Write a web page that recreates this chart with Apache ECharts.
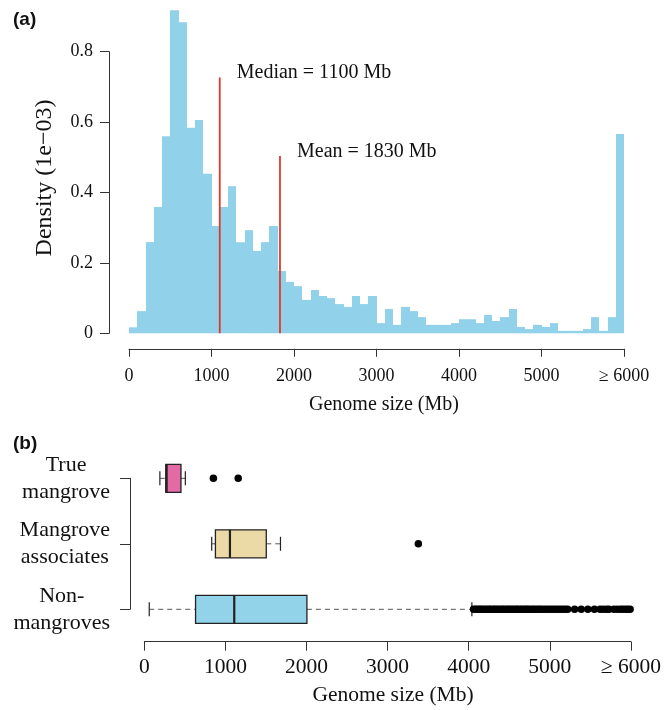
<!DOCTYPE html>
<html><head><meta charset="utf-8">
<script src="https://cdn.jsdelivr.net/npm/echarts@6/dist/echarts.min.js"></script>
<style>html,body{margin:0;padding:0;background:#fff}#c{width:664px;height:710px}</style>
</head><body><div id="c"></div>
<script>
// ---------- Panel (a): histogram ----------
const binWidth = 100; // Mb per bin
const densityValues = [
  0.017, 0.063, 0.259, 0.359, 0.560, 0.918, 0.884, 0.584, 0.606, 0.453,
  0.305, 0.359, 0.418, 0.259, 0.293, 0.234, 0.259, 0.305, 0.177, 0.146,
  0.134, 0.095, 0.123, 0.106, 0.100, 0.083, 0.075, 0.106, 0.083, 0.106,
  0.029, 0.069, 0.024, 0.075, 0.063, 0.046, 0.024, 0.024, 0.024, 0.029,
  0.040, 0.040, 0.029, 0.052, 0.035, 0.046, 0.069, 0.018, 0.012, 0.024,
  0.018, 0.029, 0.007, 0.007, 0.007, 0.012, 0.046, 0.007, 0.046, 0.566
];
const refNames = ['Median = 1100 Mb', 'Mean = 1830 Mb'];
const refValues = [1100, 1830];
const refLineTops = [0.727, 0.504];
const xTickLabels = ['0', '1000', '2000', '3000', '4000', '5000', '\u2265 6000'];
const yTickLabels = ['0', '0.2', '0.4', '0.6', '0.8'];

// ---------- Panel (b): boxplots ----------
const groupLines = [['True', 'mangrove'], ['Mangrove', 'associates'], ['Non-', 'mangroves']];
const whiskerLow = [192, 831, 61];
const q1 = [265, 877, 632];
const medians = [275, 1056, 1109];
const q3 = [452, 1504, 2005];
const whiskerHigh = [506, 1679, 4039];
const outliersTrue = [852, 1158];
const outliersAssoc = [3379];
const outliersNon = [
  4060, 4085, 4105, 4130, 4150, 4175, 4200, 4225, 4250, 4270, 4300, 4320, 4345, 4370, 4395,
  4420, 4440, 4470, 4490, 4515, 4540, 4565, 4590, 4610, 4640, 4660, 4690, 4710, 4735, 4760,
  4790, 4810, 4840, 4865, 4890, 4920, 4950, 4980, 5010, 5040, 5070, 5100, 5130, 5160, 5190,
  5220, 5306, 5388, 5469, 5550, 5620, 5660, 5700, 5730, 5790, 5830, 5870, 5900, 5930, 5960, 5990
];
const boxColors = ['#e36aa5', '#ecdaa6', '#92d3ea'];

const SERIF = '"Liberation Serif", "Times New Roman", serif';
const SANS = '"Liberation Sans", Arial, sans-serif';
const AX = '#333';

const chart = echarts.init(document.getElementById('c'), null, {renderer: 'canvas'});

const outlierData = []
  .concat(outliersTrue.map(v => [v, 0]))
  .concat(outliersAssoc.map(v => [v, 1]))
  .concat(outliersNon.map(v => [v, 2]));

const option = {
  animation: false,
  backgroundColor: '#fff',
  grid: [
    {left: 129, right: 40, top: 51.7, height: 281.6},
    {left: 144.3, right: 29, top: 478.3, height: 131}
  ],
  xAxis: [
    {
      gridIndex: 0, type: 'value', position: 'bottom', min: 0, max: 6000, interval: 1000, offset: 15.5,
      axisLine: {show: true, onZero: false, lineStyle: {color: AX, width: 1}},
      axisTick: {show: true, length: 8, lineStyle: {color: AX}},
      axisLabel: {fontFamily: SERIF, fontSize: 18, color: '#111', margin: 18.5,
        formatter: v => xTickLabels[Math.round(v / 1000)]},
      splitLine: {show: false}
    },
    {
      gridIndex: 1, type: 'value', position: 'bottom', min: 0, max: 6000, interval: 1000, offset: 32.4,
      axisLine: {show: true, onZero: false, lineStyle: {color: AX, width: 1}},
      axisTick: {show: true, length: 9, lineStyle: {color: AX}},
      axisLabel: {fontFamily: SERIF, fontSize: 21.5, color: '#111', margin: 15,
        formatter: v => xTickLabels[Math.round(v / 1000)]},
      splitLine: {show: false}
    }
  ],
  yAxis: [
    {
      gridIndex: 0, type: 'value', position: 'left', min: 0, max: 0.8, interval: 0.2, offset: 20,
      axisLine: {show: true, onZero: false, lineStyle: {color: AX, width: 1}},
      axisTick: {show: true, length: 9, lineStyle: {color: AX}},
      axisLabel: {fontFamily: SERIF, fontSize: 18, color: '#111', margin: 16,
        formatter: v => yTickLabels[Math.round(v / 0.2)]},
      splitLine: {show: false}
    },
    {
      gridIndex: 1, type: 'value', position: 'left', min: 0, max: 2, interval: 1, inverse: true, offset: 14.3,
      axisLine: {show: true, onZero: false, lineStyle: {color: AX, width: 1}},
      axisTick: {show: true, length: 10, lineStyle: {color: AX}},
      axisLabel: {
        margin: 20, align: 'right',
        formatter: v => groupLines[Math.round(v)].map(s => '{c|' + s + '}').join('\n'),
        rich: {c: {align: 'center', fontFamily: SERIF, fontSize: 22, lineHeight: 27, color: '#111'}}
      },
      splitLine: {show: false}
    }
  ],
  graphic: [
    {type: 'text', left: 13, top: 10, style: {text: '(a)', font: 'bold 19px ' + SANS, fill: '#111'}},
    {type: 'text', left: 13, top: 434, style: {text: '(b)', font: 'bold 19px ' + SANS, fill: '#111'}},
    {type: 'text', x: 45, y: 178, rotation: Math.PI / 2,
      style: {text: 'Density (1e\u221203)', font: '24px ' + SERIF, fill: '#111', align: 'center', verticalAlign: 'middle'}},
    {type: 'text', x: 384, y: 405, style: {text: 'Genome size (Mb)', font: '20px ' + SERIF, fill: '#111', align: 'center', verticalAlign: 'middle'}},
    {type: 'text', x: 393, y: 695, style: {text: 'Genome size (Mb)', font: '21.5px ' + SERIF, fill: '#111', align: 'center', verticalAlign: 'middle'}}
  ],
  series: [
    {
      type: 'custom', xAxisIndex: 0, yAxisIndex: 0, clip: false,
      data: densityValues.map((v, i) => [i * binWidth, (i + 1) * binWidth, v]),
      encode: {x: [0, 1], y: 2},
      renderItem: (params, api) => {
        const p0 = api.coord([api.value(0), api.value(2)]);
        const p1 = api.coord([api.value(1), 0]);
        const x0 = Math.round(p0[0]), x1 = Math.round(p1[0]);
        return {type: 'rect', shape: {x: x0, y: p0[1], width: x1 - x0, height: p1[1] - p0[1]},
          style: {fill: '#91d2ea'}};
      }
    },
    {
      type: 'custom', xAxisIndex: 0, yAxisIndex: 0, clip: false, z: 5,
      data: refValues.map((v, i) => [v, refLineTops[i], i]),
      encode: {x: 0, y: 1},
      renderItem: (params, api) => {
        const top = api.coord([api.value(0), api.value(1)]);
        const bot = api.coord([api.value(0), 0]);
        return {type: 'group', children: [
          {type: 'line', shape: {x1: top[0], y1: top[1], x2: bot[0], y2: bot[1]},
            style: {stroke: '#e2382b', lineWidth: 1.8}},
          {type: 'text', x: top[0] + 17, y: top[1] - 4.5,
            style: {text: refNames[api.value(2)], font: '20px ' + SERIF, fill: '#111',
              align: 'left', verticalAlign: 'middle'}}
        ]};
      }
    },
    {
      type: 'custom', xAxisIndex: 1, yAxisIndex: 1, clip: false,
      data: groupLines.map((g, i) => [i, whiskerLow[i], q1[i], medians[i], q3[i], whiskerHigh[i]]),
      encode: {x: [1, 2, 3, 4, 5], y: 0},
      renderItem: (params, api) => {
        const i = api.value(0);
        const c = v => api.coord([v, i]);
        const lo = c(api.value(1)), a = c(api.value(2)), m = c(api.value(3)), b = c(api.value(4)), hi = c(api.value(5));
        const y = lo[1], h = 14, cap = 7;
        const dash = {stroke: '#555', lineWidth: 1, lineDash: [5, 4]};
        const solid = {stroke: '#222', lineWidth: 1.2};
        return {type: 'group', children: [
          {type: 'line', shape: {x1: lo[0], y1: y, x2: a[0], y2: y}, style: dash},
          {type: 'line', shape: {x1: b[0], y1: y, x2: hi[0], y2: y}, style: dash},
          {type: 'line', shape: {x1: lo[0], y1: y - cap, x2: lo[0], y2: y + cap}, style: solid},
          {type: 'line', shape: {x1: hi[0], y1: y - cap, x2: hi[0], y2: y + cap}, style: solid},
          {type: 'rect', shape: {x: a[0], y: y - h, width: b[0] - a[0], height: 2 * h},
            style: {fill: boxColors[i], stroke: '#222', lineWidth: 1.3}},
          {type: 'line', shape: {x1: m[0], y1: y - h, x2: m[0], y2: y + h}, style: {stroke: '#222', lineWidth: 2.2}}
        ]};
      }
    },
    {
      type: 'scatter', xAxisIndex: 1, yAxisIndex: 1, clip: false,
      data: outlierData, symbol: 'circle', symbolSize: 7.5,
      itemStyle: {color: '#000', opacity: 1}
    }
  ]
};
chart.setOption(option);
</script>
</body></html>
